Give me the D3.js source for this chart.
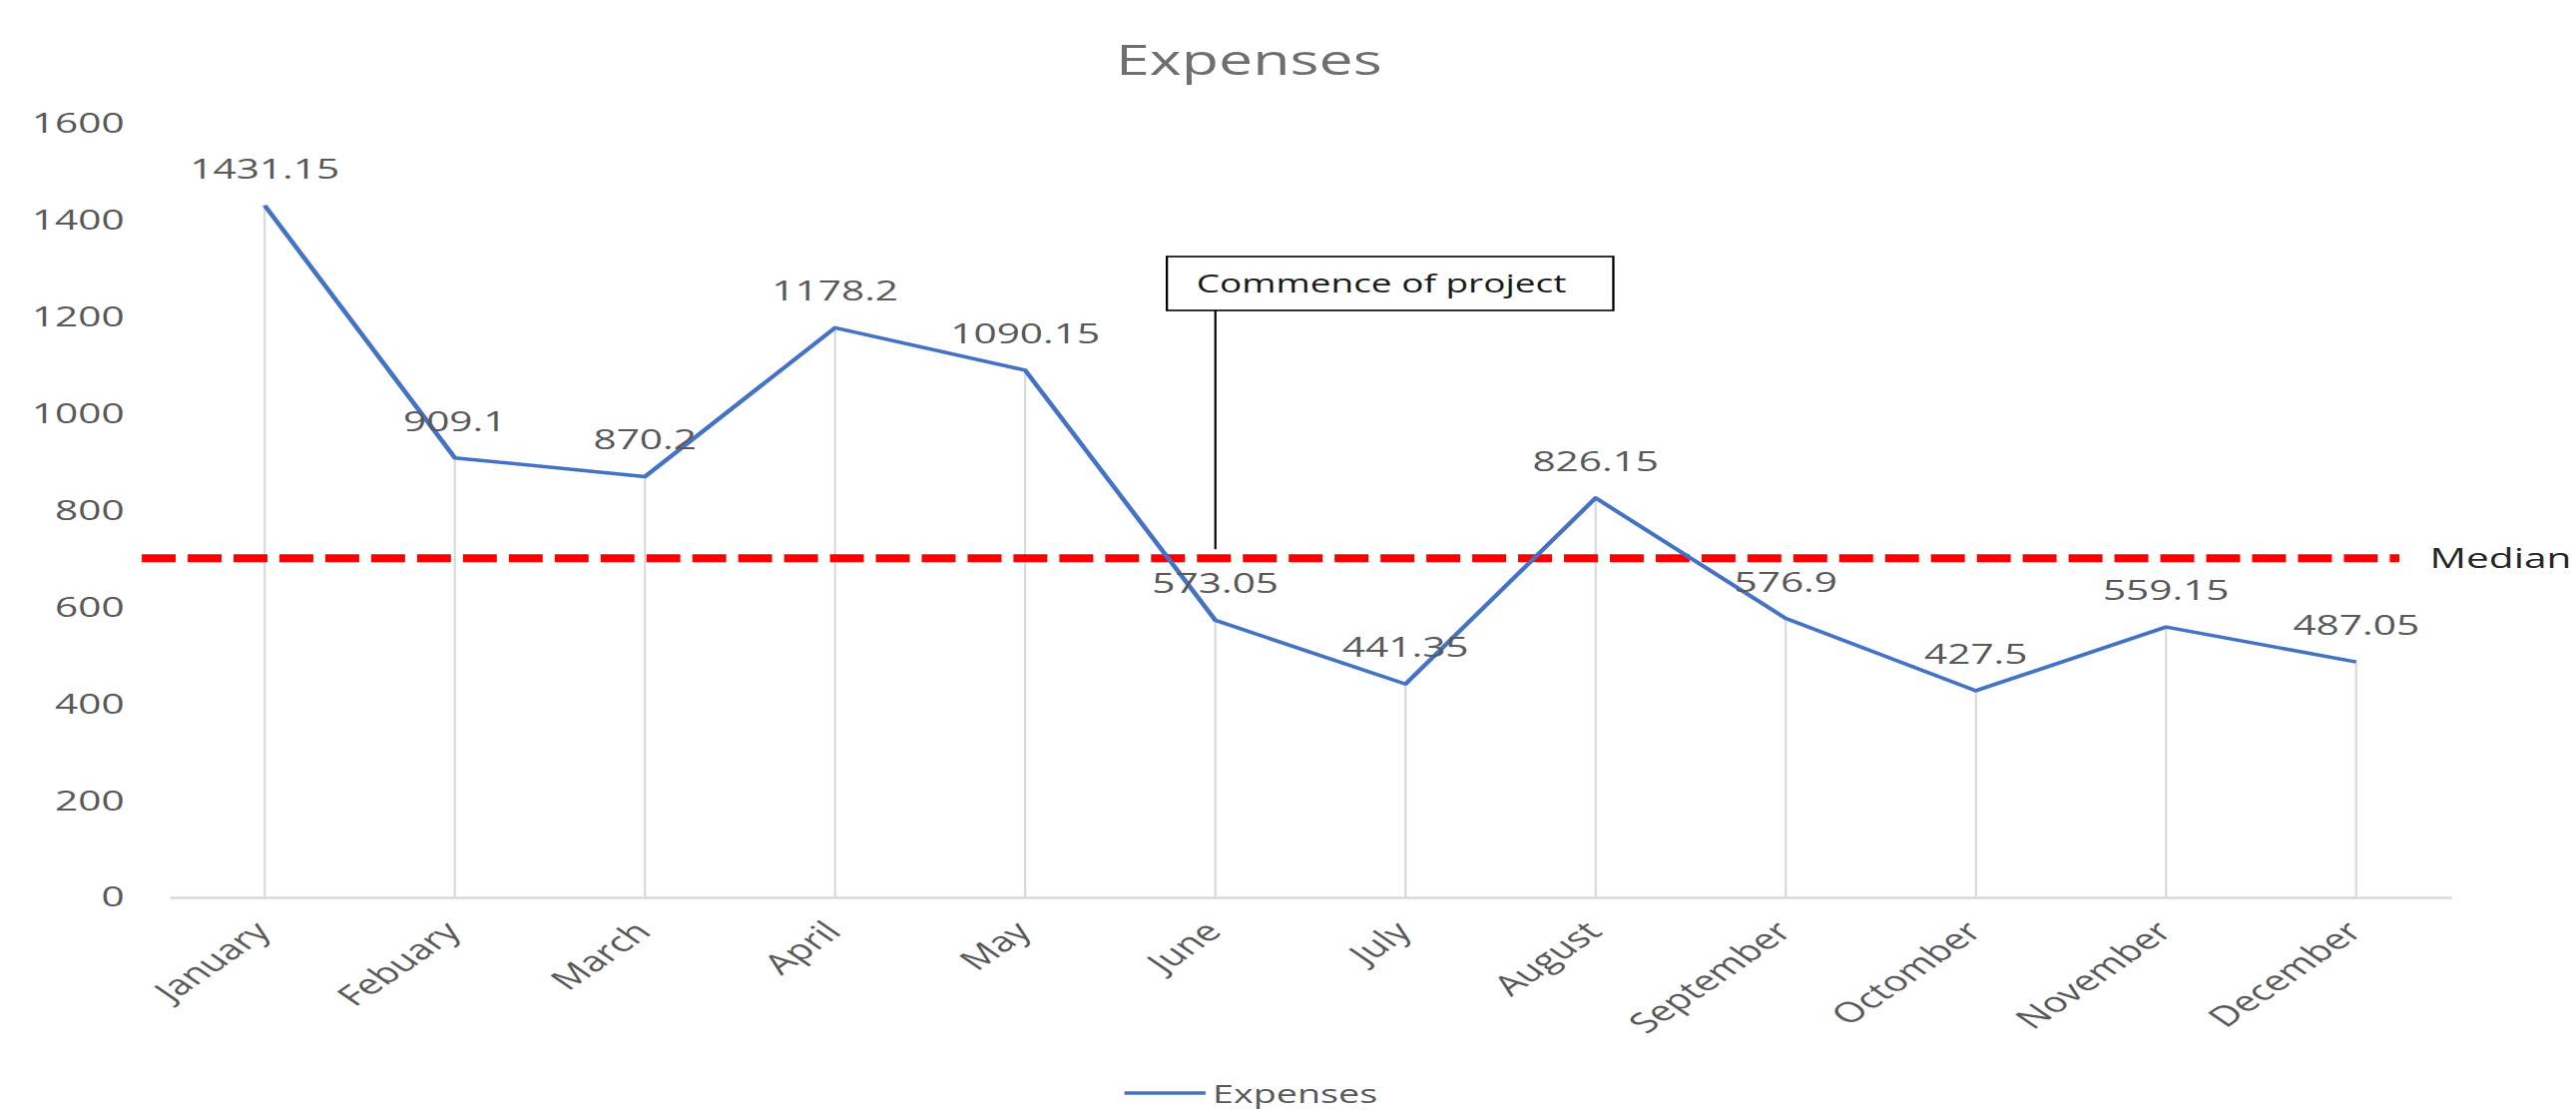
<!DOCTYPE html>
<html>
<head>
<meta charset="utf-8">
<script src="https://cdn.jsdelivr.net/npm/d3@7"></script>
<style>
  html, body { margin: 0; padding: 0; background: #fff; }
  svg { display: block; }
  text { font-family: "Open Sans", "Noto Sans", sans-serif; }
</style>
</head>
<body>
<div id="chart"></div>
<script>
// ---- data ----
const chartTitle = "Expenses";
const months = ["January", "Febuary", "March", "April", "May", "June", "July", "August", "September", "Octomber", "November", "December"];
const expenses = [1431.15, 909.1, 870.2, 1178.2, 1090.15, 573.05, 441.35, 826.15, 576.9, 427.5, 559.15, 487.05];
const yTicks = [0, 200, 400, 600, 800, 1000, 1200, 1400, 1600];
const seriesName = "Expenses";
const medianLabel = "Median";
const annotationText = "Commence of project";
const annotationMonth = "June";

// ---- layout (the picture is horizontally stretched, so draw in a narrower viewBox) ----
const W = 2581, H = 1115;
const SX = 1.45;
const VW = W / SX;

const svg = d3.select("#chart").append("svg")
  .attr("width", W).attr("height", H)
  .attr("viewBox", `0 0 ${VW} ${H}`)
  .attr("preserveAspectRatio", "none");

const plotLeft = 117.2, plotRight = 1693.8, plotTop = 124, plotBottom = 899;

const x = d3.scalePoint().domain(months).range([plotLeft, plotRight]).padding(0.5);
const y = d3.scaleLinear().domain([0, 1600]).range([plotBottom, plotTop]);

const data = months.map((m, i) => ({ month: m, value: expenses[i] }));

// title
svg.append("text")
  .attr("x", 863).attr("y", 75)
  .attr("text-anchor", "middle")
  .attr("font-size", 42)
  .attr("fill", "#6f6f6f")
  .text(chartTitle);

// y axis (labels only)
const yAxis = svg.append("g")
  .attr("transform", `translate(86,0)`)
  .call(d3.axisLeft(y).tickValues(yTicks).tickSize(0).tickPadding(0).tickFormat(d3.format("d")));
yAxis.select(".domain").remove();
yAxis.selectAll("text")
  .attr("font-size", 28)
  .attr("fill", "#595959")
  .attr("font-family", "'Open Sans', 'Noto Sans', sans-serif");

// drop lines
svg.append("g").selectAll("line").data(data).join("line")
  .attr("x1", d => x(d.month)).attr("x2", d => x(d.month))
  .attr("y1", d => y(d.value)).attr("y2", plotBottom)
  .attr("stroke", "#d9d9d9").attr("stroke-width", 1.5);

// x axis
const xAxis = svg.append("g")
  .attr("transform", `translate(0,${plotBottom})`)
  .call(d3.axisBottom(x).tickSize(0).tickPadding(0));
xAxis.select(".domain").attr("stroke", "#d9d9d9").attr("stroke-width", 2.5);
xAxis.selectAll(".tick text")
  .attr("font-size", 28)
  .attr("fill", "#595959")
  .attr("font-family", "'Open Sans', 'Noto Sans', sans-serif")
  .attr("text-anchor", "end")
  .attr("dy", null)
  .attr("y", 0)
  .attr("transform", "translate(5,36) rotate(-45)");

// median line
const medianValue = d3.median(expenses);
svg.append("line")
  .attr("x1", 98).attr("x2", 1658)
  .attr("y1", y(medianValue)).attr("y2", y(medianValue))
  .attr("stroke", "#ff0000").attr("stroke-width", 8)
  .attr("stroke-dasharray", "23.4 8.3");
svg.append("text")
  .attr("x", 1679).attr("y", y(medianValue) + 10)
  .attr("font-size", 28)
  .attr("fill", "#262626")
  .text(medianLabel);

// series line
const line = d3.line().x(d => x(d.month)).y(d => y(d.value));
svg.append("path")
  .datum(data)
  .attr("d", line)
  .attr("fill", "none")
  .attr("stroke", "#4472c4")
  .attr("stroke-width", 3.5)
  .attr("stroke-linejoin", "round");

// data labels
svg.append("g").selectAll("text").data(data).join("text")
  .attr("x", d => x(d.month))
  .attr("y", d => y(d.value) - 27)
  .attr("text-anchor", "middle")
  .attr("font-size", 28)
  .attr("fill", "#595959")
  .text(d => String(d.value));

// annotation callout
const ax = x(annotationMonth);
const boxLeft = ax - 33.5, boxRight = ax + 275, boxTop = 257, boxBottom = 311;
svg.append("line")
  .attr("x1", ax).attr("x2", ax)
  .attr("y1", boxBottom).attr("y2", y(medianValue) - 9)
  .attr("stroke", "#000").attr("stroke-width", 1.5);
svg.append("rect")
  .attr("x", boxLeft).attr("y", boxTop)
  .attr("width", boxRight - boxLeft).attr("height", boxBottom - boxTop)
  .attr("fill", "#fff").attr("stroke", "#000").attr("stroke-width", 1.6);
svg.append("text")
  .attr("x", (boxLeft + boxRight) / 2 - 6).attr("y", 293)
  .attr("text-anchor", "middle")
  .attr("font-size", 25.5)
  .attr("fill", "#1a1a1a")
  .text(annotationText);

// legend
const legend = svg.append("g");
legend.append("line")
  .attr("x1", 777).attr("x2", 833).attr("y1", 1095).attr("y2", 1095)
  .attr("stroke", "#4472c4").attr("stroke-width", 3.5);
legend.append("text")
  .attr("x", 838).attr("y", 1105)
  .attr("font-size", 26)
  .attr("fill", "#595959")
  .text(seriesName);
</script>
</body>
</html>
